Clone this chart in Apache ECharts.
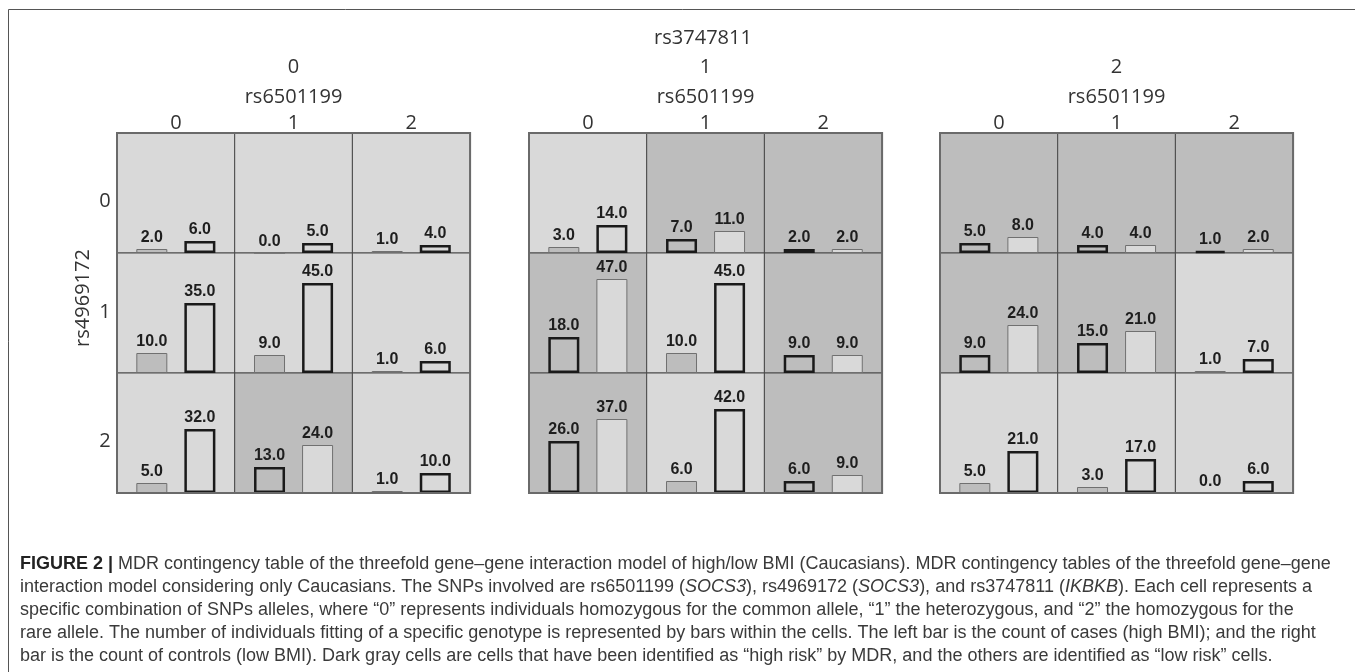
<!DOCTYPE html>
<html>
<head>
<meta charset="utf-8">
<script src="https://cdn.jsdelivr.net/npm/echarts@6/dist/echarts.min.js"></script>
<style>
html,body{margin:0;padding:0;background:#fff;}
#main{width:1355px;height:672px;}
</style>
</head>
<body>
<div id="main"></div>
<script>
// ---- data ----
const rs3747811 = ['0', '1', '2'];   // panels
const rs6501199 = ['0', '1', '2'];   // columns
const rs4969172 = ['0', '1', '2'];   // rows

// cases (high BMI), rows = rs4969172, cols = rs6501199
const casesP0 = [[2, 0, 1], [10, 9, 1], [5, 13, 1]];
const casesP1 = [[3, 7, 2], [18, 10, 9], [26, 6, 6]];
const casesP2 = [[5, 4, 1], [9, 15, 1], [5, 3, 0]];
// controls (low BMI)
const controlsP0 = [[6, 5, 4], [35, 45, 6], [32, 24, 10]];
const controlsP1 = [[14, 11, 2], [47, 45, 9], [37, 42, 9]];
const controlsP2 = [[8, 4, 2], [24, 21, 7], [21, 17, 6]];
// high risk cells (1 = high risk / dark gray)
const highRiskP0 = [[0, 0, 0], [0, 0, 0], [0, 1, 0]];
const highRiskP1 = [[0, 1, 1], [1, 0, 1], [1, 0, 1]];
const highRiskP2 = [[1, 1, 1], [1, 1, 0], [0, 0, 0]];

const captionLines = [
  '{b|FIGURE 2 |} MDR contingency table of the threefold gene–gene interaction model of high/low BMI (Caucasians). MDR contingency tables of the threefold gene–gene',
  'interaction model considering only Caucasians. The SNPs involved are rs6501199 ({i|SOCS3}), rs4969172 ({i|SOCS3}), and rs3747811 ({i|IKBKB}). Each cell represents a',
  'specific combination of SNPs alleles, where “0” represents individuals homozygous for the common allele, “1” the heterozygous, and “2” the homozygous for the',
  'rare allele. The number of individuals fitting of a specific genotype is represented by bars within the cells. The left bar is the count of cases (high BMI); and the right',
  'bar is the count of controls (low BMI). Dark gray cells are cells that have been identified as “high risk” by MDR, and the others are identified as “low risk” cells.'
];

// ---- layout ----
const cases = [casesP0, casesP1, casesP2];
const controls = [controlsP0, controlsP1, controlsP2];
const highRisk = [highRiskP0, highRiskP1, highRiskP2];
const panelLeft = [117, 529, 940];
const gridTop = 133;
const cw = 117.7, ch = 120;
const DARK = '#bdbdbd', LIGHT = '#d9d9d9';
const HEAD_FONT = 'Open Sans';
const CAP_FONT = 'Liberation Sans', CAP_SIZE = 18;

const grids = [], xAxes = [], yAxes = [], series = [];
const labelCfg = {
  show: true, position: 'top', distance: 3,
  fontFamily: 'Liberation Sans', fontWeight: 'bold', fontSize: 16, color: '#1e1e1e',
  formatter: p => Number(p.value).toFixed(1)
};
let gi = 0;
for (let p = 0; p < 3; p++) {
  for (let r = 0; r < 3; r++) {
    for (let c = 0; c < 3; c++) {
      const hr = highRisk[p][r][c] === 1;
      grids.push({
        left: panelLeft[p] + c * cw, top: gridTop + r * ch, width: cw, height: ch,
        show: true, backgroundColor: hr ? DARK : LIGHT, borderColor: '#4a4a4a', borderWidth: 1
      });
      xAxes.push({ gridIndex: gi, type: 'category', data: [rs6501199[c]], show: false });
      yAxes.push({ gridIndex: gi, type: 'value', min: 0, max: 60, show: false });
      const thick = { borderColor: '#1a1a1a', borderWidth: 2.5 };
      const thin = { borderColor: '#707070', borderWidth: 1 };
      series.push({
        type: 'bar', name: 'cases', xAxisIndex: gi, yAxisIndex: gi,
        barWidth: 31, barGap: '55%',
        data: [{ value: cases[p][r][c], itemStyle: Object.assign({ color: DARK }, hr ? thick : thin) }],
        label: labelCfg, silent: true, animation: false
      });
      series.push({
        type: 'bar', name: 'controls', xAxisIndex: gi, yAxisIndex: gi,
        barWidth: 31, barGap: '55%',
        data: [{ value: controls[p][r][c], itemStyle: Object.assign({ color: LIGHT }, hr ? thin : thick) }],
        label: labelCfg, silent: true, animation: false
      });
      gi++;
    }
  }
}

const graphics = [];
const headStyle = (text, x, y, extra) => Object.assign({
  type: 'text', x: x, y: y,
  style: { text: text, fontFamily: HEAD_FONT, fontSize: 20, fill: '#333', align: 'center', verticalAlign: 'middle' }
}, extra || {});
// outer frame
graphics.push({ type: 'rect', shape: { x: 8.5, y: 9.5, width: 1400, height: 700 }, style: { fill: 'none', stroke: '#555', lineWidth: 1 } });
graphics.push(headStyle('rs3747811', 703, 38));
for (let p = 0; p < 3; p++) {
  const cx = panelLeft[p] + 1.5 * cw;
  graphics.push(headStyle(rs3747811[p], cx, 67));
  graphics.push(headStyle('rs6501199', cx, 97));
  for (let c = 0; c < 3; c++) {
    graphics.push(headStyle(rs6501199[c], panelLeft[p] + (c + 0.5) * cw, 123));
  }
  graphics.push({ type: 'rect', z: 10, shape: { x: panelLeft[p], y: gridTop, width: 3 * cw, height: 3 * ch },
    style: { fill: 'none', stroke: '#6a6a6a', lineWidth: 2 } });
}
const rowY = [201, 312, 441];
for (let r = 0; r < 3; r++) graphics.push(headStyle(rs4969172[r], 105, rowY[r]));
graphics.push(headStyle('rs4969172', 83, 298, { rotation: Math.PI / 2 }));

const capY0 = 564, capDy = 23;
captionLines.forEach((t, i) => {
  graphics.push({
    type: 'text', x: 20, y: capY0 + i * capDy,
    style: {
      text: t, fontFamily: CAP_FONT, fontSize: CAP_SIZE, fill: '#3a3a3a', verticalAlign: 'middle',
      rich: {
        b: { fontFamily: CAP_FONT, fontSize: CAP_SIZE, fontWeight: 'bold', fill: '#222' },
        i: { fontFamily: CAP_FONT, fontSize: CAP_SIZE, fontStyle: 'italic', fill: '#3a3a3a' }
      }
    }
  });
});

const chart = echarts.init(document.getElementById('main'), null, { renderer: 'canvas' });
chart.setOption({
  animation: false,
  backgroundColor: '#fff',
  grid: grids, xAxis: xAxes, yAxis: yAxes, series: series,
  graphic: graphics
});
</script>
</body>
</html>
